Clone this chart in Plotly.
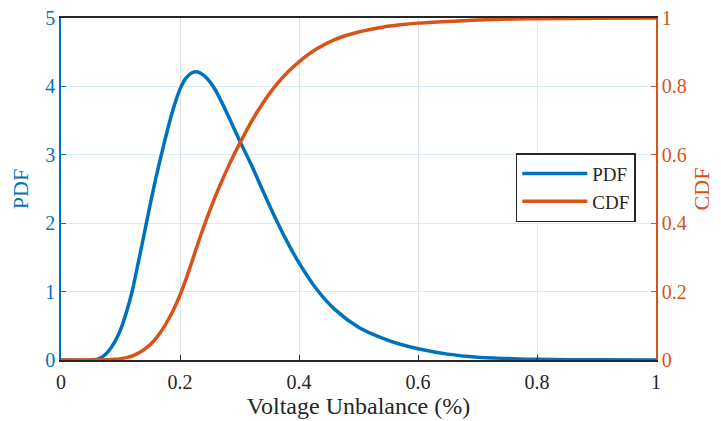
import plotly.graph_objects as go

voltage_unbalance = [0.0, 0.05, 0.06, 0.07, 0.08, 0.09, 0.10, 0.11, 0.12, 0.13, 0.14, 0.15,
                     0.16, 0.17, 0.18, 0.19, 0.20, 0.21, 0.22, 0.23, 0.24, 0.25, 0.26, 0.27,
                     0.28, 0.29, 0.30, 0.32, 0.34, 0.36, 0.38, 0.40, 0.43, 0.46, 0.50, 0.54,
                     0.57, 0.60, 0.65, 0.70, 0.76, 0.80, 0.90, 1.0]
pdf_values = [0.0, 0.0, 0.01, 0.05, 0.13, 0.26, 0.44, 0.70, 1.02, 1.43, 1.85, 2.28,
              2.68, 3.05, 3.40, 3.71, 3.96, 4.12, 4.20, 4.21, 4.16, 4.07, 3.94, 3.77,
              3.59, 3.40, 3.21, 2.85, 2.46, 2.08, 1.73, 1.42, 1.03, 0.74, 0.48, 0.32,
              0.23, 0.165, 0.086, 0.042, 0.02, 0.01, 0.002, 0.0]
cdf_values = [0.0, 0.0, 0.0, 0.0005, 0.001, 0.002, 0.004, 0.007, 0.012, 0.020, 0.031, 0.045,
              0.064, 0.088, 0.117, 0.150, 0.190, 0.236, 0.287, 0.340, 0.390, 0.437, 0.481, 0.522,
              0.561, 0.598, 0.632, 0.697, 0.753, 0.801, 0.840, 0.872, 0.910, 0.937, 0.959, 0.973,
              0.980, 0.985, 0.990, 0.994, 0.997, 0.998, 0.9995, 1.0]

x_ticks = [0, 0.2, 0.4, 0.6, 0.8, 1]
x_tick_labels = ["0", "0.2", "0.4", "0.6", "0.8", "1"]
pdf_ticks = [0, 1, 2, 3, 4, 5]
cdf_ticks = [0, 0.2, 0.4, 0.6, 0.8, 1]
cdf_tick_labels = ["0", "0.2", "0.4", "0.6", "0.8", "1"]

BLUE = "#0072BD"
ORANGE = "#D95319"
FONT = "Liberation Serif, DejaVu Serif, serif"

fig = go.Figure()
fig.add_trace(go.Scatter(x=voltage_unbalance, y=pdf_values, name="PDF", mode="lines",
                         line=dict(color=BLUE, width=3.5, shape="spline", smoothing=0.8)))
fig.add_trace(go.Scatter(x=voltage_unbalance, y=cdf_values, name="CDF", mode="lines",
                         yaxis="y2",
                         line=dict(color=ORANGE, width=3.5, shape="spline", smoothing=0.8)))

# page body adds an 8px offset, so the figure is 8px smaller than the window
fig.update_layout(
    width=713, height=413,
    margin=dict(l=53, r=65, t=10, b=61, autoexpand=False),
    paper_bgcolor="white", plot_bgcolor="white",
    font=dict(family=FONT, size=20, color="#262626"),
    showlegend=True,
    legend=dict(x=0.966, y=0.504, xanchor="right", yanchor="middle",
                bgcolor="white", bordercolor="#262626", borderwidth=1.5,
                font=dict(family=FONT, size=19, color="#262626"),
                tracegroupgap=0, itemwidth=65),
    xaxis=dict(range=[0, 1], tickvals=x_ticks, ticktext=x_tick_labels,
               showgrid=True, gridcolor="#E3E3E3", gridwidth=1,
               showline=True, linecolor="#262626", linewidth=1.5, mirror=True,
               ticks="inside", ticklen=5, tickcolor="#262626", zeroline=False,
               automargin=False, ticklabelstandoff=3, ticklabeloverflow="allow",
               tickfont=dict(family=FONT, size=20, color="#262626"),
               title=dict(text="Voltage Unbalance (%)", standoff=2,
                          font=dict(family=FONT, size=24, color="#262626"))),
    yaxis=dict(range=[0, 5], tickvals=pdf_ticks,
               showgrid=True, gridcolor="#DCEAF5", gridwidth=1,
               showline=True, linecolor=BLUE, linewidth=1.5,
               ticks="inside", ticklen=5, tickcolor=BLUE, zeroline=False,
               automargin=False, ticklabeloverflow="allow",
               tickfont=dict(family=FONT, size=20, color=BLUE),
               title=dict(text="PDF", standoff=14,
                          font=dict(family=FONT, size=22, color=BLUE))),
    yaxis2=dict(range=[0, 1], tickvals=cdf_ticks, ticktext=cdf_tick_labels,
                overlaying="y", side="right", showgrid=False,
                showline=True, linecolor=ORANGE, linewidth=1.5,
                ticks="inside", ticklen=5, tickcolor=ORANGE, zeroline=False,
                automargin=False, ticklabeloverflow="allow",
                tickfont=dict(family=FONT, size=20, color=ORANGE),
                title=dict(text="CDF", standoff=8,
                           font=dict(family=FONT, size=22, color=ORANGE))),
)

fig.write_html("out.html")
